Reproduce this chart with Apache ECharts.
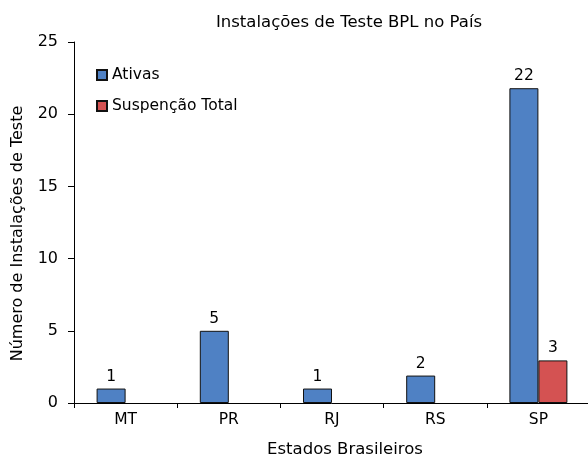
<!DOCTYPE html>
<html>
<head>
<meta charset="utf-8">
<script src="https://cdn.jsdelivr.net/npm/echarts@6/dist/echarts.min.js"></script>
<style>html,body{margin:0;padding:0;background:#fff}#c{width:588px;height:456px}</style>
</head>
<body>
<div id="c"></div>
<script>
const titleText = 'Instalações de Teste BPL no País';
const categories = ['MT', 'PR', 'RJ', 'RS', 'SP'];
const ativas = [1, 5, 1, 1.9, 21.8];
const suspencao = [null, null, null, null, 2.95];
const yTicks = [0, 5, 10, 15, 20, 25];
const xName = 'Estados Brasileiros';
const yName = 'Número de Instalações de Teste';

const font = 'DejaVu Sans';
const fs = 15.5;
const chart = echarts.init(document.getElementById('c'), null, {renderer: 'canvas'});
const lbl = {show: true, position: 'top', distance: 4, color: '#000', fontFamily: font, fontSize: fs,
  formatter: p => Math.round(p.value)};
chart.setOption({
  animation: false,
  textStyle: {fontFamily: font},
  title: {text: titleText, left: 344, top: 9, textAlign: 'center',
    textStyle: {fontFamily: font, fontSize: 16.5, fontWeight: 'normal', color: '#000'}},
  legend: {orient: 'vertical', left: 91, top: 62, itemWidth: 10, itemHeight: 10, itemGap: 15,
    textStyle: {fontFamily: font, fontSize: fs, color: '#000'},
    data: [{name: 'Ativas', icon: 'rect'}, {name: 'Suspenção Total', icon: 'rect'}]},
  grid: {left: 74, top: 42, width: 516, height: 361, containLabel: false, outerBoundsMode: 'none'},
  xAxis: {type: 'category', data: categories, name: xName, nameLocation: 'middle', nameGap: 38,
    nameTextStyle: {fontFamily: font, fontSize: 16.5, color: '#000', padding: [0, 0, 0, 26]},
    axisLine: {lineStyle: {color: '#000', width: 1}},
    axisTick: {show: true, alignWithLabel: false, length: 5, lineStyle: {color: '#000'}},
    axisLabel: {color: '#000', fontFamily: font, fontSize: fs, margin: 9}},
  yAxis: {type: 'value', min: yTicks[0], max: yTicks[yTicks.length - 1], interval: 5,
    name: yName, nameLocation: 'middle', nameGap: 48, nameRotate: 90,
    nameTextStyle: {fontFamily: font, fontSize: 16, color: '#000', padding: [0, 22, 0, 0]},
    axisLine: {show: true, lineStyle: {color: '#000', width: 1}},
    axisTick: {show: true, length: 6, lineStyle: {color: '#000'}},
    axisLabel: {color: '#000', fontFamily: font, fontSize: 16, margin: 16},
    splitLine: {show: false}},
  series: [
    {name: 'Ativas', type: 'bar', data: ativas, barWidth: 29, barGap: '0%',
      itemStyle: {color: '#4F81C4', borderColor: '#111', borderWidth: 1}, label: lbl},
    {name: 'Suspenção Total', type: 'bar', data: suspencao, barWidth: 29, barGap: '0%',
      itemStyle: {color: '#D45252', borderColor: '#111', borderWidth: 1}, label: lbl}
  ]
});
</script>
</body>
</html>
